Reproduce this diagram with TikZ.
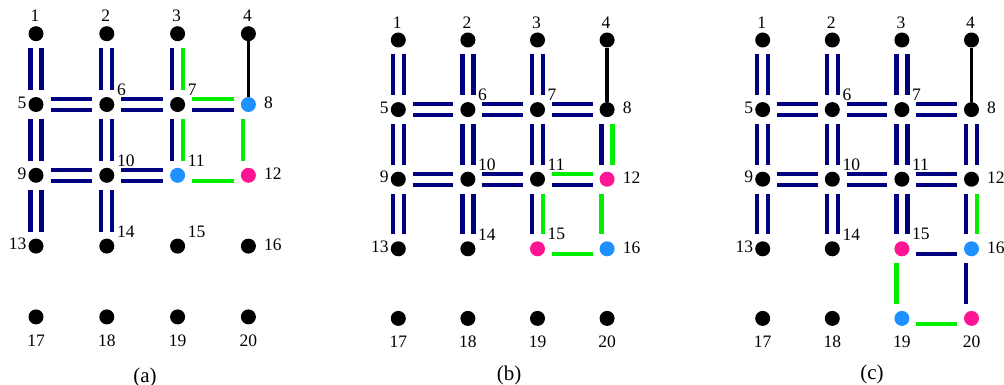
\documentclass[tikz,border=0pt]{standalone}
\usepackage{fontspec}
\setmainfont{Liberation Serif}
\usetikzlibrary{calc}
\definecolor{nv}{HTML}{000080}
\definecolor{gr}{HTML}{00EE00}
\definecolor{bl}{HTML}{1E90FF}
\definecolor{pk}{HTML}{FF1493}
\tikzset{
  dot/.style={circle, inner sep=0pt, minimum size=15pt, fill=#1, draw=none},
  lab/.style={inner sep=0pt, font=\fontsize{17.5}{21}\selectfont},
  subcap/.style={inner sep=0pt, font=\fontsize{21}{24}\selectfont},
  nvl/.style={draw=nv, line width=4.3pt, shorten <=14.5pt, shorten >=14.5pt},
  grl/.style={draw=gr, line width=4.3pt, shorten <=14.5pt, shorten >=14.5pt},
  bkl/.style={draw=black, line width=3.8pt},
}
\newcommand\setcol[3]{\expandafter\def\csname nc#1#2\endcsname{#3}}
\newcommand\grid[4]{%
 \foreach \i in {1,...,20}{%
  \pgfmathtruncatemacro\cc{mod(\i-1,4)}%
  \pgfmathtruncatemacro\rr{(\i-1)/4}%
  \pgfmathsetmacro\px{#2+\cc*#4}%
  \pgfmathsetmacro\py{#3+\rr*#4}%
  \edef\thecol{\ifcsname nc#1\i\endcsname\csname nc#1\i\endcsname\else black\fi}%
  \node[dot=\thecol] (#1\i) at (\px,\py) {};
  \ifnum\rr=0 \node[lab] (#1l\i) at ($(#1\i)+(-1,-17.5)$) {\i};%
  \else\ifnum\rr=4 \node[lab] (#1l\i) at ($(#1\i)+(0,23.5)$) {\i};%
  \else\ifnum\cc=0 \node[lab,anchor=east] (#1l\i) at ($(#1\i)+(-9.5,-2)$) {\i};%
  \else\ifnum\cc=3 \node[lab,anchor=west] (#1l\i) at ($(#1\i)+(15.5,-1.5)$) {\i};%
  \else \node[lab,anchor=west] (#1l\i) at ($(#1\i)+(10,-14.5)$) {\i};%
  \fi\fi\fi\fi
 }}
\newcommand\eL[3]{\draw[#1] ([xshift=-5.5pt]#2.center) -- ([xshift=-5.5pt]#3.center);}
\newcommand\eR[3]{\draw[#1] ([xshift=5.5pt]#2.center) -- ([xshift=5.5pt]#3.center);}
\newcommand\eT[3]{\draw[#1] ([yshift=5.5pt]#2.center) -- ([yshift=5.5pt]#3.center);}
\newcommand\eB[3]{\draw[#1] ([yshift=-5.5pt]#2.center) -- ([yshift=-5.5pt]#3.center);}
\newcommand\dblV[2]{\eL{nvl}{#1}{#2}\eR{nvl}{#1}{#2}}
\newcommand\dblH[2]{\eT{nvl}{#1}{#2}\eB{nvl}{#1}{#2}}
\setcol{a}{8}{bl}\setcol{a}{11}{bl}\setcol{a}{12}{pk}
\setcol{b}{12}{pk}\setcol{b}{15}{pk}\setcol{b}{16}{bl}
\setcol{c}{15}{pk}\setcol{c}{16}{bl}\setcol{c}{19}{bl}\setcol{c}{20}{pk}
\begin{document}
\begin{tikzpicture}[x=1pt,y=-1pt]
\useasboundingbox (0,0) rectangle (1004,385);
% ---------- panel (a)
\grid{a}{36}{33.7}{70.8}
\dblV{a1}{a5}\dblV{a2}{a6}\dblV{a5}{a9}\dblV{a6}{a10}\dblV{a9}{a13}\dblV{a10}{a14}
\dblH{a5}{a6}\dblH{a6}{a7}\dblH{a9}{a10}\dblH{a10}{a11}
\eL{nvl}{a3}{a7}\eR{grl}{a3}{a7}
\eL{nvl}{a7}{a11}\eR{grl}{a7}{a11}
\eT{grl}{a7}{a8}\eB{nvl}{a7}{a8}
\eL{grl}{a8}{a12}
\eB{grl}{a11}{a12}
\draw[bkl] (a4) -- (a8);
\node[subcap] (capa) at (145,377) {(a)};
% ---------- panel (b)
\grid{b}{398.3}{40}{69.6}
\dblV{b1}{b5}\dblV{b2}{b6}\dblV{b3}{b7}\dblV{b5}{b9}\dblV{b6}{b10}\dblV{b7}{b11}\dblV{b9}{b13}\dblV{b10}{b14}
\dblH{b5}{b6}\dblH{b6}{b7}\dblH{b7}{b8}\dblH{b9}{b10}\dblH{b10}{b11}
\eL{nvl}{b8}{b12}\eR{grl}{b8}{b12}
\eT{grl}{b11}{b12}\eB{nvl}{b11}{b12}
\eL{nvl}{b11}{b15}\eR{grl}{b11}{b15}
\eL{grl}{b12}{b16}
\eB{grl}{b15}{b16}
\draw[bkl] (b4) -- (b8);
\node[subcap] (capb) at (509,375) {(b)};
% ---------- panel (c)
\grid{c}{762.7}{40}{69.6}
\dblV{c1}{c5}\dblV{c2}{c6}\dblV{c3}{c7}\dblV{c5}{c9}\dblV{c6}{c10}\dblV{c7}{c11}\dblV{c8}{c12}\dblV{c9}{c13}\dblV{c10}{c14}\dblV{c11}{c15}
\dblH{c5}{c6}\dblH{c6}{c7}\dblH{c7}{c8}\dblH{c9}{c10}\dblH{c10}{c11}\dblH{c11}{c12}
\eL{nvl}{c12}{c16}\eR{grl}{c12}{c16}
\eB{nvl}{c15}{c16}
\eL{nvl}{c16}{c20}
\eL{grl}{c15}{c19}
\eB{grl}{c19}{c20}
\draw[bkl] (c4) -- (c8);
\node[subcap] (capc) at (872,374) {(c)};
\end{tikzpicture}
\end{document}
